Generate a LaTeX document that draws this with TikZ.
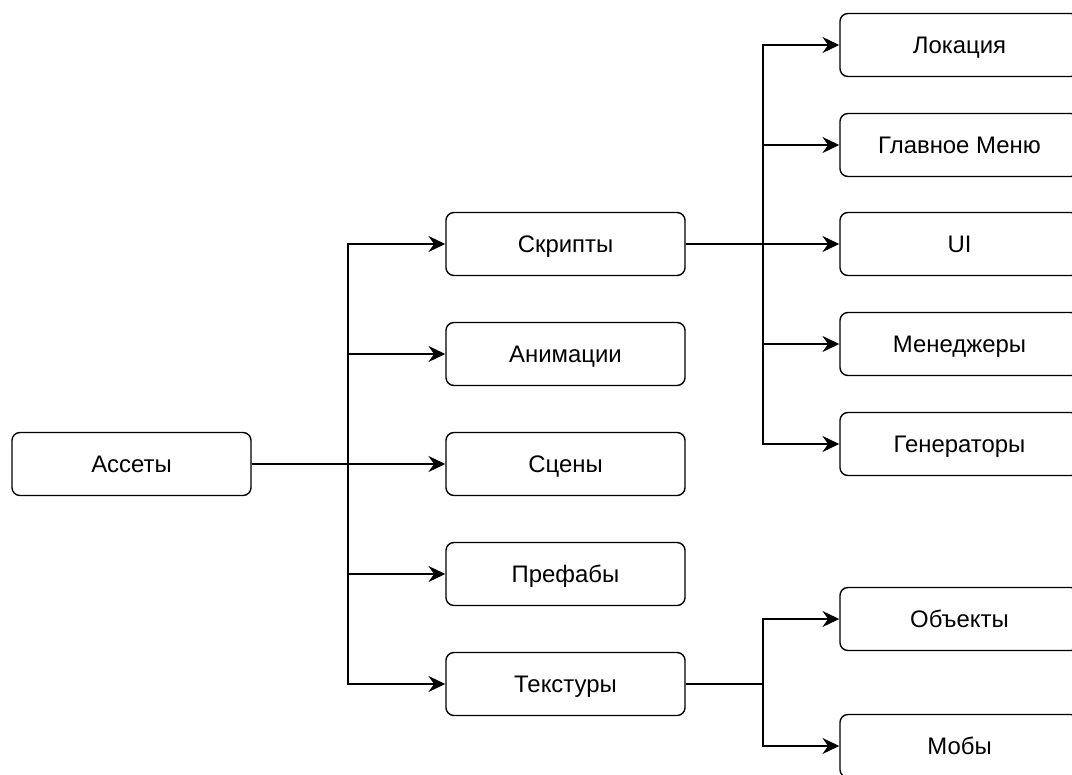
\documentclass[tikz,border=0pt]{standalone}
\usepackage{fontspec}
\setmainfont{Liberation Sans}
\usetikzlibrary{positioning, arrows.meta}

\tikzset{
  box/.style={draw, rounded corners=0.2cm, line width=1pt, minimum width=5.975cm,
    minimum height=1.575cm, font=\fontsize{17}{20}\selectfont, inner sep=0pt,
    text height=0.43cm, text depth=0cm},
}

\begin{document}
\begin{tikzpicture}[->, >={Stealth[length=0.42cm, width=0.4cm, inset=0.14cm]},
    x=0.025cm, y=-0.025cm, line width=1.2pt]
  \useasboundingbox (0,0) rectangle (1072,775);
  % level 0 and 1
  \node[box] (assets) at (131.5,464) {Ассеты};
  \node[box] (scripts) at (565.5,244) {Скрипты};
  \node[box] (anim) at (565.5,354) {Анимации};
  \node[box] (scenes) at (565.5,464) {Сцены};
  \node[box] (prefabs) at (565.5,574) {Префабы};
  \node[box] (textures) at (565.5,684) {Текстуры};
  % level 2
  \node[box] (location) at (959.5,45) {Локация};
  \node[box] (menu) at (959.5,145) {Главное Меню};
  \node[box] (ui) at (959.5,244) {UI};
  \node[box] (managers) at (959.5,344) {Менеджеры};
  \node[box] (generators) at (959.5,444) {Генераторы};
  \node[box] (objects) at (959.5,619) {Объекты};
  \node[box] (mobs) at (959.5,746) {Мобы};

  \coordinate (ja) at (348,464);
  \coordinate (js) at (763,244);
  \coordinate (jt) at (763,684);

  \draw (assets.east) -- (ja) |- (scripts.west);
  \draw (assets.east) -- (ja) |- (anim.west);
  \draw (assets.east) -- (scenes.west);
  \draw (assets.east) -- (ja) |- (prefabs.west);
  \draw (assets.east) -- (ja) |- (textures.west);

  \draw (scripts.east) -- (js) |- (location.west);
  \draw (scripts.east) -- (js) |- (menu.west);
  \draw (scripts.east) -- (ui.west);
  \draw (scripts.east) -- (js) |- (managers.west);
  \draw (scripts.east) -- (js) |- (generators.west);

  \draw (textures.east) -- (jt) |- (objects.west);
  \draw (textures.east) -- (jt) |- (mobs.west);
\end{tikzpicture}
\end{document}
